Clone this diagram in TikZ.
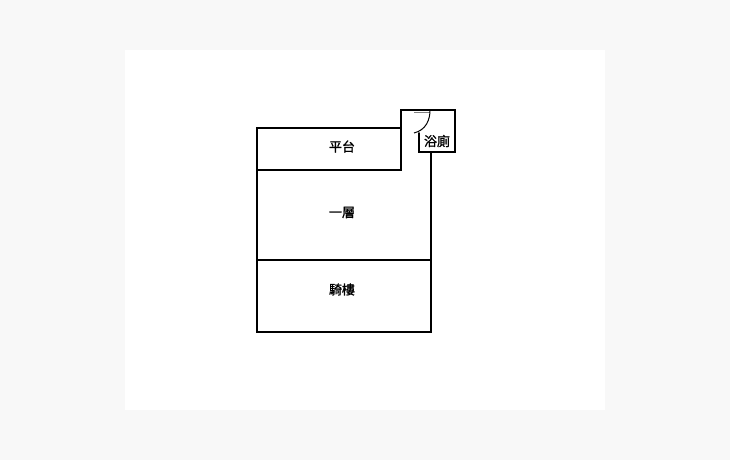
\documentclass[tikz,border=0pt]{standalone}
\usepackage{fontspec}
\newfontfamily\cjk[FakeBold=1.3]{Noto Sans CJK TC}
\definecolor{pagebg}{HTML}{F8F8F8}
\tikzset{
  wall/.style={draw=black,line width=1.6pt,line cap=round,line join=miter},
  thinwall/.style={draw=black,line width=1pt},
  roomlabel/.style={font=\cjk\fontsize{13}{14}\selectfont,text=black,inner sep=0pt}
}
\begin{document}
\begin{tikzpicture}[x=1pt,y=-1pt]
\useasboundingbox (0,0) rectangle (730,460);
\fill[pagebg] (0,0) rectangle (730,460);
\fill[white] (125,50) rectangle (605,410);
% walls
\draw[wall] (401,128) -- (257,128) -- (257,332) -- (431,332) -- (431,152);
\draw[wall] (257,170) -- (401,170) -- (401,110) -- (455,110) -- (455,152) -- (419,152) -- (419,133);
\draw[wall] (257,260) -- (431,260);
% door
\draw[draw=gray,line width=0.7pt] (414,112.4) -- (430,112.4);
\draw[thinwall] (430,110) .. controls (430,120) and (426,130) .. (414,133);
% labels
\node[roomlabel] (platform) at (342,146.5) {平台};
\node[roomlabel] (floor) at (342,212.5) {一層};
\node[roomlabel] (arcade) at (342,289.5) {騎樓};
\node[roomlabel] (bath) at (437,141) {浴廁};
\end{tikzpicture}
\end{document}
